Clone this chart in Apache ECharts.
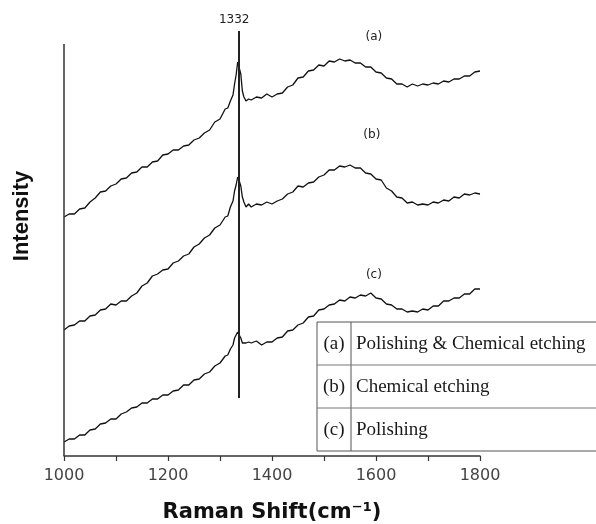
<!DOCTYPE html>
<html>
<head>
<meta charset="utf-8">
<script src="https://cdn.jsdelivr.net/npm/echarts@6/dist/echarts.min.js"></script>
<style>
  html, body { margin: 0; padding: 0; background: #fff; }
  #chart { width: 596px; height: 524px; }
</style>
</head>
<body>
<div id="chart"></div>
<script>
// Raman shift (cm-1), finer steps around the diamond peak
var shift = [1000,1010,1020,1030,1040,1050,1060,1070,1080,1090,1100,1110,1120,1130,1140,1150,1160,1170,1180,1190,
  1200,1210,1220,1230,1240,1250,1260,1270,1280,1290,1300,1310,1315,1320,1325,1328,1331,1334,1337,1340,1343,1346,
  1350,1355,1360,1370,1380,1390,1400,1410,1420,1430,1440,1450,1460,1470,1480,1490,1500,1510,1520,1530,1540,1550,
  1560,1570,1580,1590,1600,1610,1620,1630,1640,1650,1660,1670,1680,1690,1700,1710,1720,1730,1740,1750,1760,1770,
  1780,1790,1800];

// (a) polishing & chemical etching
var curveA = [239,242,242,247,248,254,258,264,265,270,272,277,278,283,284,289,289,294,295,301,
  302,306,306,310,311,316,318,323,326,334,337,347,348,355,361,372,381,394,395,382,365,359,
  355,357,356,359,358,362,359,362,363,369,371,378,379,385,386,391,390,395,394,397,395,396,
  393,393,389,389,384,383,378,377,372,372,369,372,370,372,371,373,372,375,374,377,377,380,
  380,384,385];

// (b) chemical etching
var curveB = [126,130,131,135,135,140,141,146,147,152,151,155,155,160,163,170,173,180,182,186,
  187,193,195,200,202,209,212,218,221,228,231,239,240,249,255,265,271,279,275,270,259,254,
  249,252,249,252,251,254,252,255,257,262,264,270,269,273,274,279,281,286,286,290,289,291,
  288,288,283,282,277,276,268,265,259,258,253,254,251,252,251,254,253,256,255,259,258,262,
  261,263,262];

// (c) polishing
var curveC = [14,17,17,21,21,26,27,32,33,37,37,42,44,48,49,53,53,57,57,61,
  61,65,66,71,71,76,77,82,84,90,93,100,101,107,111,118,120,124,121,118,113,115,
  113,114,113,115,111,114,114,118,119,125,126,131,133,139,140,146,147,151,152,156,155,159,
  158,161,160,163,158,157,152,151,147,147,144,145,144,147,146,150,150,155,155,158,158,162,
  162,167,167];

var peakShift = 1337;
var peakLabel = '1332';
var curveNames = ['(a)', '(b)', '(c)'];
var curveLabelPos = [[1596, 419], [1592, 321], [1596, 181]];
var tableRows = [
  ['(a)', 'Polishing & Chemical etching'],
  ['(b)', 'Chemical etching'],
  ['(c)', 'Polishing']
];

function pairs(ys) {
  return shift.map(function (x, i) { return [x, ys[i]]; });
}

var chart = echarts.init(document.getElementById('chart'));

var allCurves = [curveA, curveB, curveC];
var series = allCurves.map(function (ys, k) {
  var s = {
    name: curveNames[k],
    type: 'line',
    data: pairs(ys),
    showSymbol: false,
    clip: false,
    lineStyle: { color: '#111', width: 1.3 },
    markPoint: {
      symbol: 'circle',
      symbolSize: 1,
      itemStyle: { color: 'rgba(0,0,0,0)' },
      label: {
        show: true, position: 'inside', formatter: curveNames[k],
        fontFamily: 'DejaVu Sans', fontSize: 12, color: '#222'
      },
      data: [{ coord: curveLabelPos[k] }]
    }
  };
  if (k === 0) {
    // vertical marker at the diamond peak
    s.markLine = {
      symbol: 'none',
      silent: true,
      lineStyle: { color: '#222', width: 2, type: 'solid' },
      label: {
        show: true, position: 'start', formatter: peakLabel,
        fontFamily: 'DejaVu Sans', fontSize: 12, color: '#222', distance: 5, offset: [-5, 0]
      },
      data: [[{ coord: [peakShift, 425] }, { coord: [peakShift, 58] }]]
    };
  }
  if (k === 1) {
    // left axis line, shorter than the plot box
    s.markLine = {
      symbol: 'none',
      silent: true,
      lineStyle: { color: '#333', width: 1.5, type: 'solid' },
      label: { show: false },
      data: [[{ coord: [1000, 0] }, { coord: [1000, 412] }]]
    };
  }
  return s;
});

// table legend in the lower right
var tableTop = 322, rowH = 43, tableLeft = 317, colX = 351;
var tableEls = [
  { type: 'rect', shape: { x: tableLeft, y: tableTop, width: 320, height: rowH * 3 },
    style: { fill: '#fff', stroke: '#555', lineWidth: 1 } },
  { type: 'line', shape: { x1: colX, y1: tableTop, x2: colX, y2: tableTop + rowH * 3 },
    style: { stroke: '#555', lineWidth: 1 } }
];
for (var r = 1; r < 3; r++) {
  tableEls.push({ type: 'line', shape: { x1: tableLeft, y1: tableTop + rowH * r, x2: 596, y2: tableTop + rowH * r },
    style: { stroke: '#777', lineWidth: 1 } });
}
tableRows.forEach(function (row, i) {
  var cy = tableTop + rowH * i + rowH / 2 + 1;
  tableEls.push({ type: 'text', x: (tableLeft + colX) / 2, y: cy,
    style: { text: row[0], font: '19px "Liberation Serif"', fill: '#1a1a1a', textAlign: 'center', textVerticalAlign: 'middle' } });
  tableEls.push({ type: 'text', x: colX + 5, y: cy,
    style: { text: row[1], font: '19px "Liberation Serif"', fill: '#1a1a1a', textAlign: 'left', textVerticalAlign: 'middle' } });
});

tableEls.push({
  type: 'text', x: 22, y: 216, rotation: Math.PI / 2,
  style: { text: 'Intensity', font: 'bold 22px "Liberation Sans"', fill: '#111', textAlign: 'center', textVerticalAlign: 'middle' }
});

chart.setOption({
  animation: false,
  backgroundColor: '#fff',
  grid: { left: 64, right: 116, top: 20, bottom: 68, outerBoundsMode: 'none' },
  xAxis: {
    type: 'value',
    min: 1000,
    max: 1800,
    interval: 100,
    name: 'Raman Shift(cm⁻¹)',
    nameLocation: 'middle',
    nameGap: 46,
    nameTextStyle: { fontFamily: 'DejaVu Sans', fontWeight: 'bold', fontSize: 21, color: '#111' },
    axisLine: { lineStyle: { color: '#333', width: 1.5 } },
    axisTick: { show: true, inside: false, length: 5, lineStyle: { color: '#333', width: 1.2 } },
    axisLabel: {
      margin: 12,
      fontFamily: 'DejaVu Sans', fontSize: 16, color: '#444',
      formatter: function (v) { return v % 200 === 0 ? String(v) : ''; }
    },
    splitLine: { show: false }
  },
  yAxis: {
    type: 'value',
    min: 0,
    max: 436,
    axisLine: { show: false },
    axisTick: { show: false },
    axisLabel: { show: false },
    splitLine: { show: false }
  },
  series: series,
  graphic: tableEls
});
</script>
</body>
</html>
